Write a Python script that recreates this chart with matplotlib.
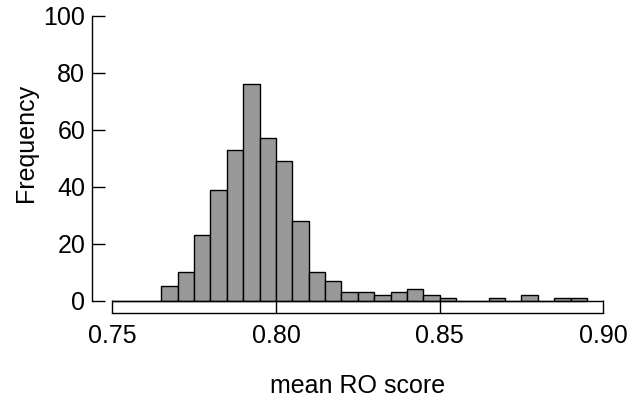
import numpy as np
import matplotlib
matplotlib.use("Agg")
import matplotlib.pyplot as plt

plt.rcParams['font.family'] = ['Liberation Sans', 'DejaVu Sans']

# histogram of mean RO score, bin width 0.005 starting at 0.75
bin_start = 0.75
bin_width = 0.005
counts = [0, 0, 0, 5, 10, 23, 39, 53, 76, 57, 49, 28, 10, 7, 3, 3, 2, 3, 4,
          2, 1, 0, 0, 1, 0, 2, 0, 1, 1]
x_ticks = [0.75, 0.80, 0.85, 0.90]
x_tick_labels = ['0.75', '0.80', '0.85', '0.90']
y_ticks = [0, 20, 40, 60, 80, 100]

edges = bin_start + bin_width * np.arange(len(counts) + 1)

fig = plt.figure(figsize=(6.31, 4.00), dpi=100)
ax = fig.add_axes([92.3 / 631, (400 - 313.3) / 400, (603.3 - 92.3) / 631, (313.3 - 15.7) / 400])

ax.bar(edges[:-1], counts, width=bin_width, align='edge',
       color='#999999', edgecolor='black', linewidth=1.0, zorder=2)

# R style axis box under the bars
ax.hlines(0, x_ticks[0], x_ticks[-1], color='black', linewidth=1.0, zorder=3)

x0 = x_ticks[0] - 20 / 3274
ax.set_xlim(x0, x0 + (603.3 - 92.3) / 3274)
ax.set_ylim(-4.42, 100)

for s in ['top', 'right']:
    ax.spines[s].set_visible(False)
ax.spines['bottom'].set_bounds(x_ticks[0], x_ticks[-1])
ax.spines['left'].set_bounds(0, 100)
ax.spines['bottom'].set_linewidth(1.0)
ax.spines['left'].set_linewidth(1.0)

ax.set_xticks(x_ticks)
ax.set_xticklabels(x_tick_labels)
ax.set_yticks(y_ticks)
ax.tick_params(axis='both', direction='in', length=9.1, width=1.0, labelsize=18)
ax.tick_params(axis='x', pad=8)
ax.tick_params(axis='y', pad=5)

ax.set_xlabel('mean RO score', fontsize=18)
ax.set_ylabel('Frequency', fontsize=18)
ax.xaxis.set_label_coords(0.52, -0.205)
ax.yaxis.set_label_coords(-0.107, 0.571)

fig.savefig('out.png', dpi=100)
